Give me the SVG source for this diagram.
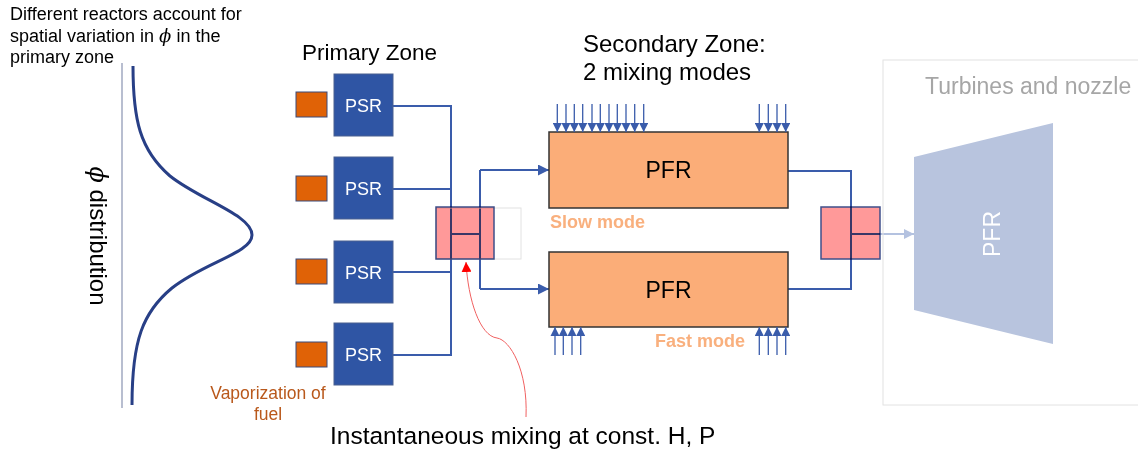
<svg xmlns="http://www.w3.org/2000/svg" width="1138" height="450" viewBox="0 0 1138 450">
<style>
text{font-family:"Liberation Sans",Arial,sans-serif;}
.psr{fill:#2F55A4;stroke:#4A6090;stroke-width:1;}
.psrt{fill:#fff;font-size:18px;text-anchor:middle;}
.fuel{fill:#E06206;stroke:#3A4A7A;stroke-width:1;}
.wire{fill:none;stroke:#3A5CAB;stroke-width:2;}
.mix{fill:#FF9999;stroke:#3F4F8A;stroke-width:1.5;mix-blend-mode:multiply;}
.pfr{fill:#FBAD78;stroke:#333;stroke-width:1.5;}
.pfrt{font-size:23px;text-anchor:middle;fill:#000;}
.inj{stroke:#3A5CAB;stroke-width:1.3;fill:none;}
.mode{fill:#F9B07E;font-size:18px;font-weight:bold;}
</style>
<defs>
<marker id="ab" viewBox="0 0 10 10" refX="10" refY="5" markerWidth="5.5" markerHeight="5.5" markerUnits="strokeWidth" orient="auto"><path d="M0,0L10,5L0,10z" fill="#3A5CAB"/></marker>
<marker id="as" viewBox="0 0 10 10" refX="10" refY="5" markerWidth="7" markerHeight="7" markerUnits="strokeWidth" orient="auto"><path d="M0,0L10,5L0,10z" fill="#3A5CAB"/></marker>
<marker id="al" viewBox="0 0 10 10" refX="10" refY="5" markerWidth="5" markerHeight="5" markerUnits="strokeWidth" orient="auto"><path d="M0,0L10,5L0,10z" fill="#B4C2E0"/></marker>
<marker id="ar" viewBox="0 0 10 10" refX="10" refY="5" markerWidth="10" markerHeight="10" markerUnits="strokeWidth" orient="auto"><path d="M0,0L10,5L0,10z" fill="#FF0000"/></marker>
</defs>

<g id="note">
<text x="10" y="20" font-size="18">Different reactors account for</text>
<text x="10" y="42" font-size="18">spatial variation in <tspan font-style="italic" font-family="'DejaVu Serif',serif">ϕ</tspan> in the</text>
<text x="10" y="63" font-size="18">primary zone</text>
</g>

<g id="distribution">
<line x1="122" y1="63" x2="122" y2="408" stroke="#A0A8C0" stroke-width="1.5"/>
<path d="M133,66 C133,120 140,150 170,176 C200,200 252,215 252,235 C252,253 205,262 172,288 C143,312 132,340 132,405" fill="none" stroke="#283F86" stroke-width="3"/>
<text transform="translate(90,236) rotate(90)" font-size="24" text-anchor="middle"><tspan font-style="italic" font-family="'DejaVu Serif',serif">ϕ</tspan> distribution</text>
</g>

<text x="302" y="60" font-size="22.5">Primary Zone</text>
<text x="583" y="52" font-size="24">Secondary Zone:</text>
<text x="583" y="80" font-size="24">2 mixing modes</text>

<g id="connectors">
<path class="wire" d="M393,106H451V355H393M393,189H451M393,272H451"/>
<path class="wire" d="M451,234H480"/>
<path class="wire" d="M480,170V289" />
<path class="wire" d="M480,170H549" marker-end="url(#ab)"/>
<path class="wire" d="M480,289H549" marker-end="url(#ab)"/>
<path class="wire" d="M788,171H851V289H788M851,234H880"/>
<path d="M880,234H914" stroke="#B4C2E0" stroke-width="2" fill="none" marker-end="url(#al)"/>
<path d="M526,417 C528,370 510,340 497,338 C480,336 468,300 466,262" fill="none" stroke="#F06060" stroke-width="1" marker-end="url(#ar)"/>
</g>

<g id="fuel1"><rect class="fuel" x="296" y="92" width="31" height="25"/></g>
<g id="fuel2"><rect class="fuel" x="296" y="176" width="31" height="25"/></g>
<g id="fuel3"><rect class="fuel" x="296" y="259" width="31" height="25"/></g>
<g id="fuel4"><rect class="fuel" x="296" y="342" width="31" height="25"/></g>

<g id="psr1"><rect class="psr" x="334" y="74" width="59" height="62"/><text class="psrt" x="363.5" y="112">PSR</text></g>
<g id="psr2"><rect class="psr" x="334" y="157" width="59" height="62"/><text class="psrt" x="363.5" y="195">PSR</text></g>
<g id="psr3"><rect class="psr" x="334" y="241" width="59" height="62"/><text class="psrt" x="363.5" y="279">PSR</text></g>
<g id="psr4"><rect class="psr" x="334" y="323" width="59" height="62"/><text class="psrt" x="363.5" y="361">PSR</text></g>

<g id="vapor">
<text x="268" y="399" font-size="17.5" fill="#B9581B" text-anchor="middle">Vaporization of</text>
<text x="268" y="420" font-size="17.5" fill="#B9581B" text-anchor="middle">fuel</text>
</g>

<g id="mixer1">
<rect x="436" y="208" width="85" height="51" fill="none" stroke="#E2E2E2" stroke-width="1"/>
<rect class="mix" x="436" y="207" width="58" height="52"/>
</g>

<g id="pfr1">
<rect class="pfr" x="549" y="132" width="239" height="76"/>
<text class="pfrt" x="668.5" y="178">PFR</text>
</g>
<g id="pfr2">
<rect class="pfr" x="549" y="252" width="239" height="75"/>
<text class="pfrt" x="668.5" y="298">PFR</text>
</g>

<g id="injectors">
<path class="inj" marker-end="url(#as)" d="M557.3,104V132"/>
<path class="inj" marker-end="url(#as)" d="M566,104V132"/>
<path class="inj" marker-end="url(#as)" d="M574.3,104V132"/>
<path class="inj" marker-end="url(#as)" d="M582.7,104V132"/>
<path class="inj" marker-end="url(#as)" d="M592,104V132"/>
<path class="inj" marker-end="url(#as)" d="M600.3,104V132"/>
<path class="inj" marker-end="url(#as)" d="M609,104V132"/>
<path class="inj" marker-end="url(#as)" d="M617.3,104V132"/>
<path class="inj" marker-end="url(#as)" d="M626,104V132"/>
<path class="inj" marker-end="url(#as)" d="M634.7,104V132"/>
<path class="inj" marker-end="url(#as)" d="M643.7,104V132"/>
<path class="inj" marker-end="url(#as)" d="M759.3,104V132"/>
<path class="inj" marker-end="url(#as)" d="M768.3,104V132"/>
<path class="inj" marker-end="url(#as)" d="M777,104V132"/>
<path class="inj" marker-end="url(#as)" d="M785.7,104V132"/>
<path class="inj" marker-end="url(#as)" d="M555,355V327"/>
<path class="inj" marker-end="url(#as)" d="M563.3,355V327"/>
<path class="inj" marker-end="url(#as)" d="M572,355V327"/>
<path class="inj" marker-end="url(#as)" d="M580.7,355V327"/>
<path class="inj" marker-end="url(#as)" d="M759.3,355V327"/>
<path class="inj" marker-end="url(#as)" d="M768.3,355V327"/>
<path class="inj" marker-end="url(#as)" d="M777,355V327"/>
<path class="inj" marker-end="url(#as)" d="M785.7,355V327"/>
</g>

<text class="mode" x="550" y="228">Slow mode</text>
<text class="mode" x="655" y="347">Fast mode</text>

<g id="mixer2">
<rect class="mix" x="821" y="207" width="59" height="52"/>
</g>

<g id="turbines">
<rect x="883" y="60" width="270" height="345" fill="none" stroke="#E2E2E2" stroke-width="1"/>
<text x="925" y="94" font-size="23" fill="#A6A6A6">Turbines and nozzle</text>
<polygon points="914,157 1053,123 1053,344 914,310" fill="#B8C4DE"/>
<text transform="translate(1000,234) rotate(-90)" font-size="23" fill="#fff" text-anchor="middle">PFR</text>
</g>

<text x="330" y="444" font-size="24.5">Instantaneous mixing at const. H, P</text>
</svg>
